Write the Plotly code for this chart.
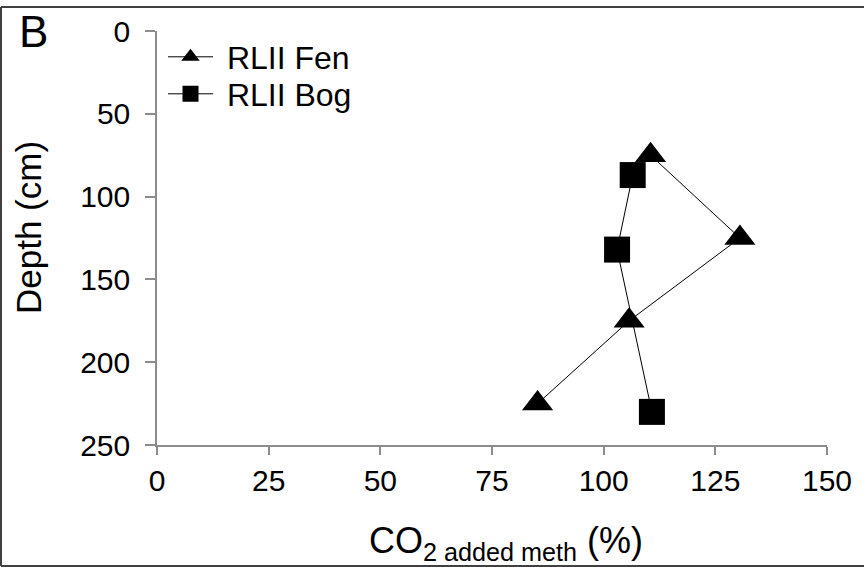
import plotly.graph_objects as go

# Data
fen_x = [110.5, 130.5, 105.7, 85.2]
fen_depth = [75, 125, 175, 225]
bog_x = [106.5, 103.0, 110.8]
bog_depth = [87, 132, 230]
x_ticks = [0, 25, 50, 75, 100, 125, 150]
y_ticks = [0, 50, 100, 150, 200, 250]

W, H = 864, 567
L, R, T, B = 157, 37, 31, 122
pw, ph = W - L - R, H - T - B

def px2paper_x(px):
    return (px - L) / pw

def px2paper_y(py):
    return (H - B - py) / ph

FONT = "Liberation Sans, Arial, sans-serif"
NB = "\u00a0"

fig = go.Figure()
fig.add_trace(go.Scatter(
    x=fen_x, y=fen_depth, mode="lines+markers", name=NB + "RLII Fen",
    line=dict(color="black", width=1),
    marker=dict(symbol="triangle-up", size=27, color="black"),
    legend="legend",
))
fig.add_trace(go.Scatter(
    x=bog_x, y=bog_depth, mode="lines+markers", name=NB + "RLII Bog",
    line=dict(color="black", width=1),
    marker=dict(symbol="square", size=26, color="black"),
    legend="legend2",
))

axis_common = dict(
    showgrid=False, zeroline=False, showline=True, linecolor="#8c8c8c", linewidth=1.5,
    ticks="outside", tickcolor="#8c8c8c", tickwidth=1.5,
    tickfont=dict(family=FONT, size=30, color="black"),
)

leg_common = dict(
    xanchor="left", yanchor="middle", bgcolor="rgba(0,0,0,0)",
    font=dict(family=FONT, size=32, color="black"), itemwidth=45,
)

fig.update_layout(
    width=W, height=H,
    margin=dict(l=L, r=R, t=T, b=B),
    paper_bgcolor="white", plot_bgcolor="white",
    font=dict(family=FONT, color="black"),
    xaxis=dict(
        range=[0, 150], tickmode="array", tickvals=x_ticks,
        ticktext=[str(v) for v in x_ticks], ticklen=8,
        **axis_common,
    ),
    yaxis=dict(
        range=[250, 0], tickmode="array", tickvals=y_ticks,
        ticktext=[str(v) for v in y_ticks], ticklen=10, ticklabelstandoff=9,
        **axis_common,
    ),
    legend=dict(x=px2paper_x(163), y=px2paper_y(57), **leg_common),
    legend2=dict(x=px2paper_x(163), y=px2paper_y(94), **leg_common),
    showlegend=True,
    annotations=[
        dict(text="B", x=px2paper_x(33), y=px2paper_y(31), xref="paper", yref="paper",
             xanchor="center", yanchor="middle", showarrow=False,
             font=dict(family=FONT, size=44, color="black")),
        dict(text="CO<sub>2 added meth</sub> (%)", x=px2paper_x(506), y=px2paper_y(543),
             xref="paper", yref="paper", xanchor="center", yanchor="middle", showarrow=False,
             font=dict(family=FONT, size=36, color="black")),
        dict(text="Depth (cm)", x=px2paper_x(28), y=px2paper_y(228), textangle=-90,
             xref="paper", yref="paper", xanchor="center", yanchor="middle", showarrow=False,
             font=dict(family=FONT, size=35, color="black")),
    ],
    shapes=[
        dict(type="line", xref="paper", yref="paper",
             x0=px2paper_x(1), x1=px2paper_x(866), y0=px2paper_y(7), y1=px2paper_y(7),
             line=dict(color="#404040", width=2)),
        dict(type="line", xref="paper", yref="paper",
             x0=px2paper_x(1), x1=px2paper_x(1), y0=px2paper_y(7), y1=px2paper_y(566),
             line=dict(color="#404040", width=2)),
        dict(type="line", xref="paper", yref="paper",
             x0=px2paper_x(1), x1=px2paper_x(866), y0=px2paper_y(566), y1=px2paper_y(566),
             line=dict(color="#404040", width=2)),
    ],
)

fig.write_html("out.html", config={"displayModeBar": False},
               post_script="document.body.style.margin='0';document.body.style.overflow='hidden';")
